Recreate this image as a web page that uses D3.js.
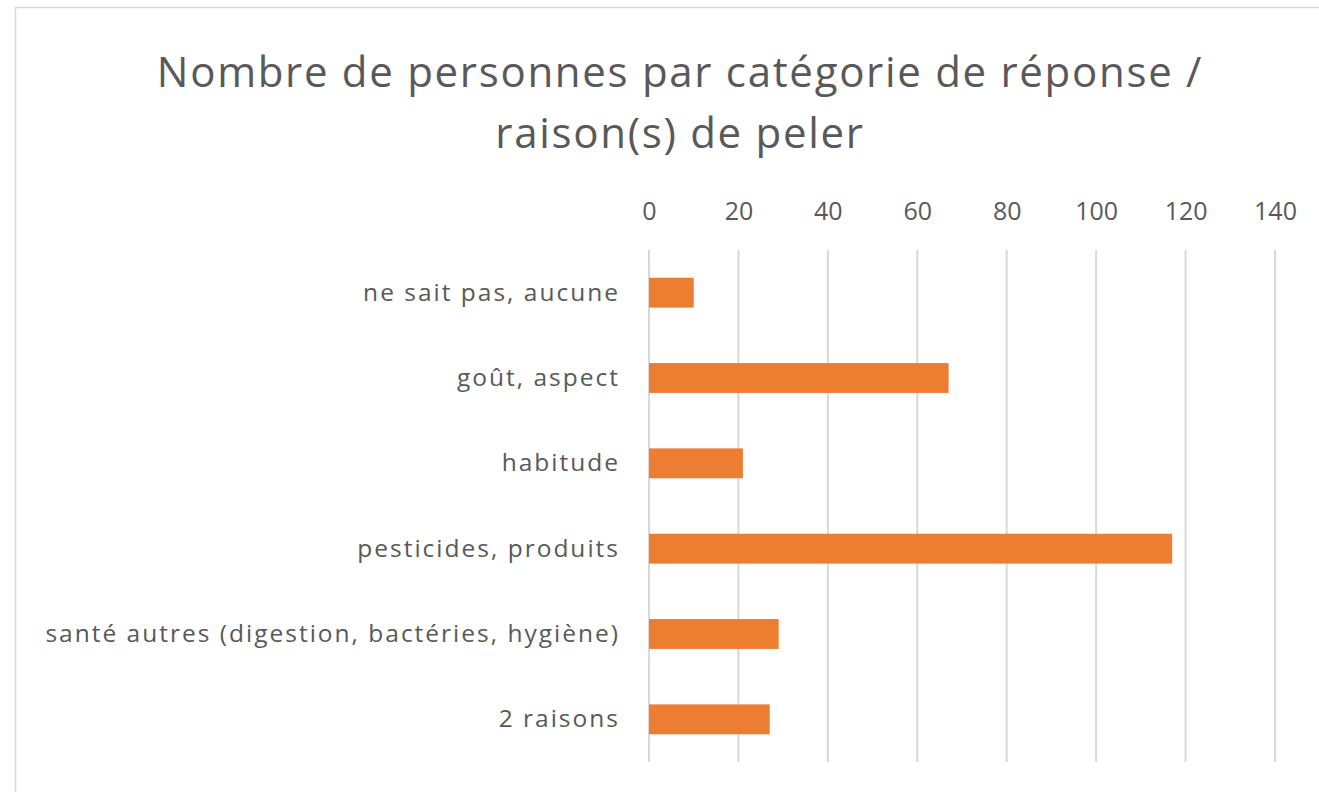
<!DOCTYPE html>
<html>
<head>
<meta charset="utf-8">
<script src="https://cdn.jsdelivr.net/npm/d3@7"></script>
<style>
  body { margin: 0; background: #fff; }
  text { font-family: "Open Sans", Lato, sans-serif; fill: #595959; }
</style>
</head>
<body>
<svg id="chart" width="1319" height="792"></svg>
<script>
// data
const categories = [
  "ne sait pas, aucune",
  "goût, aspect",
  "habitude",
  "pesticides, produits",
  "santé autres (digestion, bactéries, hygiène)",
  "2 raisons"
];
const counts = [10, 67, 21, 117, 29, 27];
const xTicks = [0, 20, 40, 60, 80, 100, 120, 140];
const titleLines = ["Nombre de personnes par catégorie de réponse /", "raison(s) de peler"];

const svg = d3.select("#chart");
const margin = { top: 250, left: 649, right: 44, bottom: 30 };
const width = 1319, height = 792;

// chart frame
svg.append("rect")
  .attr("x", 15.5).attr("y", 7.5)
  .attr("width", 1319).attr("height", 800)
  .attr("fill", "none")
  .attr("stroke", "#d9d9d9")
  .attr("stroke-width", 1.5);

const x = d3.scaleLinear()
  .domain([0, 140])
  .range([margin.left, width - margin.right]);

const y = d3.scaleBand()
  .domain(categories)
  .range([margin.top, height - margin.bottom])
  .paddingInner(0.65)
  .paddingOuter(0.325);

// title
svg.append("g")
  .selectAll("text")
  .data(titleLines)
  .join("text")
  .attr("x", 680)
  .attr("y", (d, i) => 87 + i * 61)
  .attr("text-anchor", "middle")
  .style("font-size", "42px")
  .style("letter-spacing", "1.7px")
  .text((d) => d);

// gridlines
svg.append("g")
  .selectAll("line")
  .data(xTicks)
  .join("line")
  .attr("x1", (d) => x(d)).attr("x2", (d) => x(d))
  .attr("y1", margin.top).attr("y2", height - margin.bottom)
  .attr("stroke", "#d9d9d9")
  .attr("stroke-width", 2);

// top axis
const xAxis = (g) =>
  g.attr("transform", `translate(0,${margin.top - 30})`)
    .call(d3.axisTop(x).tickValues(xTicks).tickSize(0).tickPadding(0))
    .call((g) => g.select(".domain").remove())
    .call((g) => g.selectAll("text")
      .style("font-size", "25px")
      .style("font-family", "'Open Sans', Lato, sans-serif")
      .attr("fill", "#595959"));

svg.append("g").call(xAxis);

// category axis
const yAxis = (g) =>
  g.attr("transform", `translate(${margin.left - 29},0)`)
    .call(d3.axisLeft(y).tickSize(0).tickPadding(0))
    .call((g) => g.select(".domain").remove())
    .call((g) => g.selectAll("text")
      .style("font-size", "24.5px")
      .style("letter-spacing", "2px")
      .style("font-family", "'Open Sans', Lato, sans-serif")
      .attr("fill", "#595959"));

svg.append("g").call(yAxis);

// bars
svg.append("g")
  .attr("fill", "#ED7D31")
  .selectAll("rect")
  .data(counts)
  .join("rect")
  .attr("x", x(0))
  .attr("y", (d, i) => y(categories[i]))
  .attr("width", (d) => x(d) - x(0))
  .attr("height", y.bandwidth());
</script>
</body>
</html>
